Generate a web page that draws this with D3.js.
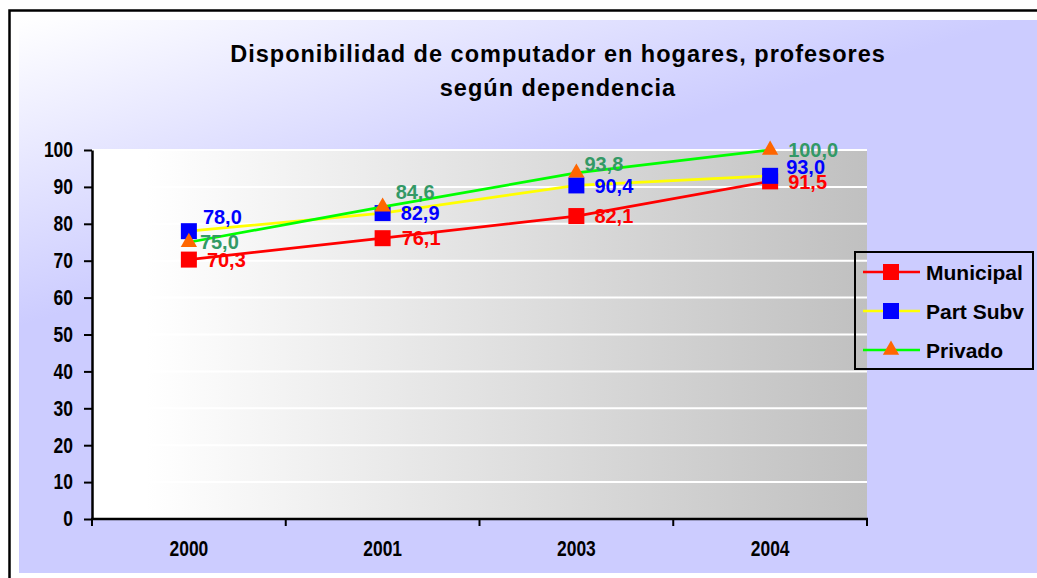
<!DOCTYPE html>
<html lang="es">
<head>
    <meta charset="UTF-8">
    <title>Disponibilidad de computador en hogares</title>
    <script src="https://d3js.org/d3.v7.min.js"></script>
    <style>
        body { margin: 0; background: #fff; }
        text { font-family: "Liberation Sans", Arial, sans-serif; font-weight: bold; }
    </style>
</head>
<body>
    <svg width="1037" height="578"></svg>
    <script>
        // data
        const years = ["2000", "2001", "2003", "2004"];
        const municipal = [70.3, 76.1, 82.1, 91.5];
        const partSubv = [78.0, 82.9, 90.4, 93.0];
        const privado = [75.0, 84.6, 93.8, 100.0];
        const yTicks = [0, 10, 20, 30, 40, 50, 60, 70, 80, 90, 100];

        const width = 1037, height = 578;
        const svg = d3.select("svg");
        const defs = svg.append("defs");

        // chart area background: white in top-left fading to lavender
        const bgGrad = defs.append("linearGradient")
            .attr("id", "bgGrad")
            .attr("gradientUnits", "userSpaceOnUse")
            .attr("x1", 19).attr("y1", 20)
            .attr("x2", 105).attr("y2", 300);
        bgGrad.append("stop").attr("offset", "0").attr("stop-color", "#ffffff");
        bgGrad.append("stop").attr("offset", "1").attr("stop-color", "#ccccff");

        const plotGrad = defs.append("linearGradient")
            .attr("id", "plotGrad")
            .attr("x1", 0).attr("y1", 0).attr("x2", 1).attr("y2", 0);
        plotGrad.append("stop").attr("offset", "0.07").attr("stop-color", "#ffffff");
        plotGrad.append("stop").attr("offset", "1").attr("stop-color", "#c0c0c0");

        svg.append("rect")
            .attr("x", 19).attr("y", 20)
            .attr("width", width - 19).attr("height", 553)
            .attr("fill", "url(#bgGrad)");

        // outer frame (runs off the right and bottom edges)
        svg.append("rect")
            .attr("x", 9.5).attr("y", 10.5)
            .attr("width", 1100).attr("height", 700)
            .attr("fill", "none")
            .attr("stroke", "#000")
            .attr("stroke-width", 2.5);

        // title
        const title = svg.append("text")
            .attr("text-anchor", "middle")
            .style("font-size", "23.5px")
            .style("letter-spacing", "1px")
            .attr("fill", "#000");
        title.append("tspan").attr("x", 558).attr("y", 62)
            .text("Disponibilidad de computador en hogares, profesores");
        title.append("tspan").attr("x", 558).attr("y", 96)
            .text("según dependencia");

        // scales
        const plotL = 92, plotR = 867, plotT = 150, plotB = 519;
        const x = d3.scaleBand().domain(years).range([plotL, plotR]);
        const y = d3.scaleLinear().domain([0, 100]).range([plotB, plotT]);
        const cx = d => x(d) + x.bandwidth() / 2;

        svg.append("rect")
            .attr("x", plotL).attr("y", plotT)
            .attr("width", plotR - plotL).attr("height", plotB - plotT)
            .attr("fill", "url(#plotGrad)");

        // gridlines
        svg.append("g")
            .selectAll("line")
            .data(yTicks.filter(t => t > 0))
            .join("line")
            .attr("x1", plotL).attr("x2", plotR)
            .attr("y1", d => y(d)).attr("y2", d => y(d))
            .attr("stroke", "#ffffff")
            .attr("stroke-width", 2);

        // narrow bold digits (Arial Narrow look)
        const narrow = sel => sel
            .style("font-size", "21.5px")
            .style("font-weight", "bold")
            .attr("fill", "#000")
            .attr("lengthAdjust", "spacingAndGlyphs")
            .attr("textLength", function () { return this.textContent.length * 9.7; });

        // axes
        const yAxis = svg.append("g")
            .attr("transform", `translate(${plotL},0)`)
            .call(d3.axisLeft(y).tickValues(yTicks).tickSize(8).tickPadding(11).tickSizeOuter(0));
        yAxis.select(".domain").attr("stroke", "#000").attr("stroke-width", 2.5);
        yAxis.selectAll(".tick line").attr("stroke", "#000").attr("stroke-width", 2);
        yAxis.selectAll(".tick text").call(narrow);

        const xAxis = svg.append("g")
            .attr("transform", `translate(0,${plotB})`)
            .call(d3.axisBottom(x).tickSize(0).tickPadding(22));
        xAxis.select(".domain").remove();
        xAxis.selectAll(".tick text").call(narrow);

        // boundary ticks between categories
        const bounds = years.map(d => x(d)).concat([plotR]);
        svg.append("g")
            .selectAll("line")
            .data(bounds)
            .join("line")
            .attr("x1", d => d).attr("x2", d => d)
            .attr("y1", plotB).attr("y2", plotB + 7)
            .attr("stroke", "#000").attr("stroke-width", 2);
        svg.append("line")
            .attr("x1", plotL - 1).attr("x2", plotR + 1)
            .attr("y1", plotB).attr("y2", plotB)
            .attr("stroke", "#000").attr("stroke-width", 2.5);

        // series
        const series = [
            { name: "Municipal", values: municipal, line: "#ff0000", marker: "#ff0000", shape: "square",
              label: "#ff0000", nudge: [[18, 0], [19, 0], [18, 0], [18, 0]] },
            { name: "Part Subv", values: partSubv, line: "#ffff00", marker: "#0000ff", shape: "square",
              label: "#0000ff", nudge: [[14, -14], [18, 0], [18, 0], [16, -9]] },
            { name: "Privado", values: privado, line: "#00ff00", marker: "#ff6600", shape: "triangle",
              label: "#339966", nudge: [[11, 0], [13, -15], [8, -9], [18, 0]] }
        ];

        const line = d3.line()
            .x(d => cx(d.year))
            .y(d => y(d.value));

        const triangle = d3.symbol().type(d3.symbolTriangle).size(115);

        function drawMarker(g, shape, color, px, py) {
            if (shape === "square") {
                g.append("rect")
                    .attr("x", px - 8).attr("y", py - 8)
                    .attr("width", 16).attr("height", 16)
                    .attr("fill", color);
            } else {
                g.append("path")
                    .attr("d", triangle())
                    .attr("transform", `translate(${px},${py})`)
                    .attr("fill", color);
            }
        }

        const marks = svg.append("g");
        series.forEach(s => {
            const pts = years.map((yr, i) => ({ year: yr, value: s.values[i] }));
            marks.append("path")
                .datum(pts)
                .attr("d", line)
                .attr("fill", "none")
                .attr("stroke", s.line)
                .attr("stroke-width", 2.7);
            pts.forEach(p => drawMarker(marks, s.shape, s.marker, cx(p.year), y(p.value)));
        });

        // data labels
        const fmt = v => v.toFixed(1).replace(".", ",");
        series.forEach(s => {
            svg.append("g")
                .selectAll("text")
                .data(s.values)
                .join("text")
                .attr("x", (d, i) => cx(years[i]) + s.nudge[i][0])
                .attr("y", (d, i) => y(d) + s.nudge[i][1])
                .attr("dy", "0.36em")
                .style("font-size", "20px")
                .attr("fill", s.label)
                .text(fmt);
        });

        // legend
        const legend = svg.append("g").attr("transform", "translate(855,252)");
        legend.append("rect")
            .attr("width", 178).attr("height", 117)
            .attr("fill", "none")
            .attr("stroke", "#000")
            .attr("stroke-width", 2);
        series.forEach((s, i) => {
            const ly = 20 + i * 39;
            const row = legend.append("g");
            row.append("line")
                .attr("x1", 8).attr("x2", 65)
                .attr("y1", ly).attr("y2", ly)
                .attr("stroke", s.line)
                .attr("stroke-width", 2.5);
            drawMarker(row, s.shape, s.marker, 36, ly);
            row.append("text")
                .attr("x", 71).attr("y", ly)
                .attr("dy", "0.36em")
                .style("font-size", "21px")
                .attr("fill", "#000")
                .text(s.name);
        });
    </script>
</body>
</html>
